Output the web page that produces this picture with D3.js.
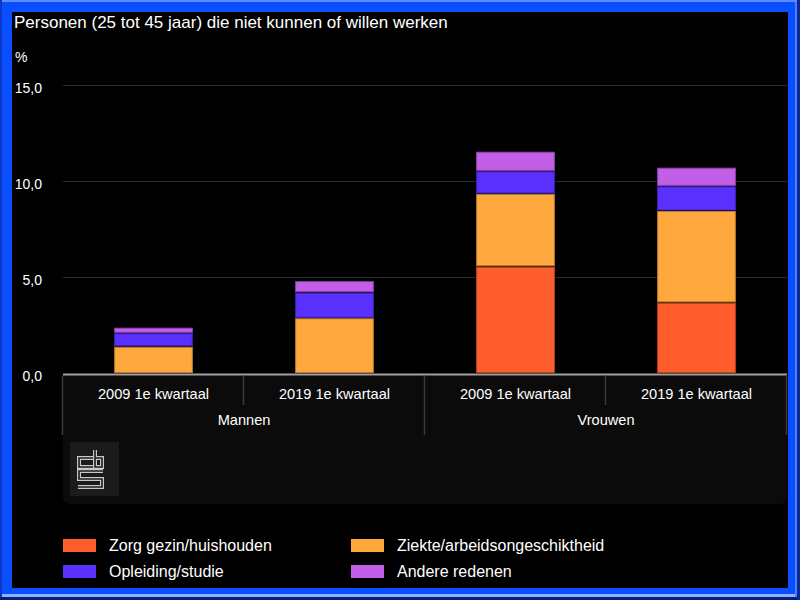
<!DOCTYPE html>
<html><head><meta charset="utf-8">
<script src="https://cdn.jsdelivr.net/npm/d3@7"></script>
<style>html,body{margin:0;padding:0;background:#000;}svg{display:block;font-family:"Liberation Sans",Arial,sans-serif;}</style>
</head><body>
<svg id="c" width="800" height="600"></svg>
<script>
const title = "Personen (25 tot 45 jaar) die niet kunnen of willen werken";
const unit = "%";
const groups = ["Mannen", "Vrouwen"];
const periods = ["2009 1e kwartaal", "2019 1e kwartaal"];
const seriesNames = ["Zorg gezin/huishouden", "Ziekte/arbeidsongeschiktheid", "Opleiding/studie", "Andere redenen"];
const seriesColors = ["#ff5e2c", "#ffa83e", "#5a30ff", "#c35ee6"];
const zorg = [0, 0, 5.55, 3.67];
const ziekte = [1.39, 2.87, 3.78, 4.78];
const opleiding = [0.7, 1.33, 1.18, 1.28];
const andere = [0.29, 0.6, 1.02, 0.97];
const yTicks = [0, 5, 10, 15];

(function () {
const svg = d3.select("#c");
// frame
svg.append("rect").attr("width", 800).attr("height", 600).attr("fill", "#0a4fff");
svg.append("rect").attr("x", 0).attr("y", 0).attr("width", 800).attr("height", 2).attr("fill", "#5c8cff");
svg.append("rect").attr("x", 0).attr("y", 0).attr("width", 2).attr("height", 600).attr("fill", "#0a36c8");
svg.append("rect").attr("x", 2).attr("y", 594).attr("width", 796).attr("height", 3).attr("fill", "#8fb0ff");
svg.append("rect").attr("x", 0).attr("y", 597).attr("width", 800).attr("height", 3).attr("fill", "#0b1f70");
svg.append("rect").attr("x", 795).attr("y", 2).attr("width", 2).attr("height", 595).attr("fill", "#4a7dff");
svg.append("rect").attr("x", 797).attr("y", 0).attr("width", 3).attr("height", 600).attr("fill", "#0b2a90");
svg.append("rect").attr("x", 12).attr("y", 12).attr("width", 776).attr("height", 576).attr("fill", "#000");

const pl = 63, pr = 787, pt = 85, base = 373.5;
const y = d3.scaleLinear().domain([0, 15]).range([base, pt]);
const keys = [];
groups.forEach(g => periods.forEach(p => keys.push(g + "|" + p)));
const x = d3.scaleBand().domain(keys).range([pl, pr]).paddingInner(0.565).paddingOuter(0.2825);
const xg = d3.scaleBand().domain(groups).range([pl, pr]);

svg.append("text").attr("x", 14).attr("y", 28).attr("fill", "#fff").attr("font-size", 17).text(title);
svg.append("text").attr("x", 15).attr("y", 62).attr("fill", "#fff").attr("font-size", 14).text(unit);

// grid
const fmt = v => d3.format(".1f")(v).replace(".", ",");
svg.append("g").selectAll("line").data(yTicks.filter(t => t > 0)).join("line")
  .attr("x1", pl).attr("x2", pr).attr("y1", d => Math.round(y(d)) + 0.5).attr("y2", d => Math.round(y(d)) + 0.5)
  .attr("stroke", "#2b2b2b").attr("stroke-width", 1);
svg.append("g").selectAll("text").data(yTicks).join("text")
  .attr("x", 42).attr("y", d => y(d) + 7.5).attr("text-anchor", "end").attr("fill", "#fff").attr("font-size", 14)
  .text(fmt);

// axis panel
const pb = 504, r = 7;
svg.append("path").attr("fill", "#0b0b0b")
  .attr("d", `M${pl},${base} H${pr} V${pb - r} Q${pr},${pb} ${pr - r},${pb} H${pl + r} Q${pl},${pb} ${pl},${pb - r} Z`);
// logo box
svg.append("rect").attr("x", 70).attr("y", 442).attr("width", 49).attr("height", 54).attr("fill", "#1b1b1b");
const logo = ["M93,458 H79 V467 H93", "M95,450 V467 H102 V458 H95", "M103,471 H79 V479 H102 V487 H78"];
logo.forEach(d => {
  svg.append("path").attr("d", d).attr("fill", "none").attr("stroke", "#c8c8c8").attr("stroke-width", 4).attr("stroke-linejoin", "miter");
  svg.append("path").attr("d", d).attr("fill", "none").attr("stroke", "#1b1b1b").attr("stroke-width", 1.6).attr("stroke-linejoin", "miter");
});

// stacked bars
const rows = keys.map((k, i) => ({ key: k, z: zorg[i], zi: ziekte[i], o: opleiding[i], a: andere[i] }));
const stack = d3.stack().keys(["z", "zi", "o", "a"])(rows);
stack.forEach((layer, li) => {
  const col = seriesColors[li];
  svg.append("g").selectAll("rect").data(layer.filter(d => d[1] - d[0] > 0)).join("rect")
    .attr("x", d => x(d.data.key) + 0.5)
    .attr("y", d => y(d[1]) + 0.5)
    .attr("width", x.bandwidth() - 1)
    .attr("height", d => Math.max(0, y(d[0]) - y(d[1]) - 1.5))
    .attr("fill", col)
    .attr("stroke", d3.color(col).darker(0.9))
    .attr("stroke-width", 1);
});

// axis lines
svg.append("line").attr("x1", pl).attr("x2", pr).attr("y1", base + 1).attr("y2", base + 1).attr("stroke", "#a0a0a0").attr("stroke-width", 2);
const divs = [];
keys.forEach((k, i) => { if (i > 0 && i % periods.length !== 0) divs.push({ x: x(k) - x.step() * x.paddingInner() / 2, h: 405 }); });
groups.forEach(g => divs.push({ x: xg(g), h: 435 }));
divs.push({ x: pr, h: 435 });
svg.append("g").selectAll("line").data(divs).join("line")
  .attr("x1", d => Math.round(d.x) - 0.5).attr("x2", d => Math.round(d.x) - 0.5)
  .attr("y1", base + 2).attr("y2", d => d.h).attr("stroke", "#3a3a3a").attr("stroke-width", 1.5);

svg.append("g").selectAll("text").data(keys).join("text")
  .attr("x", d => x(d) + x.bandwidth() / 2).attr("y", 399).attr("text-anchor", "middle")
  .attr("fill", "#fff").attr("font-size", 14.6).text(d => d.split("|")[1]);
svg.append("g").selectAll("text").data(groups).join("text")
  .attr("x", d => xg(d) + xg.bandwidth() / 2).attr("y", 425).attr("text-anchor", "middle")
  .attr("fill", "#fff").attr("font-size", 14.6).text(d => d);

// legend
const legX = [63, 351], legY = [539, 565];
seriesNames.forEach((n, i) => {
  const lx = legX[i % 2], ly = legY[Math.floor(i / 2)];
  svg.append("rect").attr("x", lx).attr("y", ly).attr("width", 33).attr("height", 13).attr("fill", seriesColors[i]);
  svg.append("text").attr("x", lx + 46).attr("y", ly + 12).attr("fill", "#fff").attr("font-size", 16).text(n);
});
})();
</script>
</body></html>
